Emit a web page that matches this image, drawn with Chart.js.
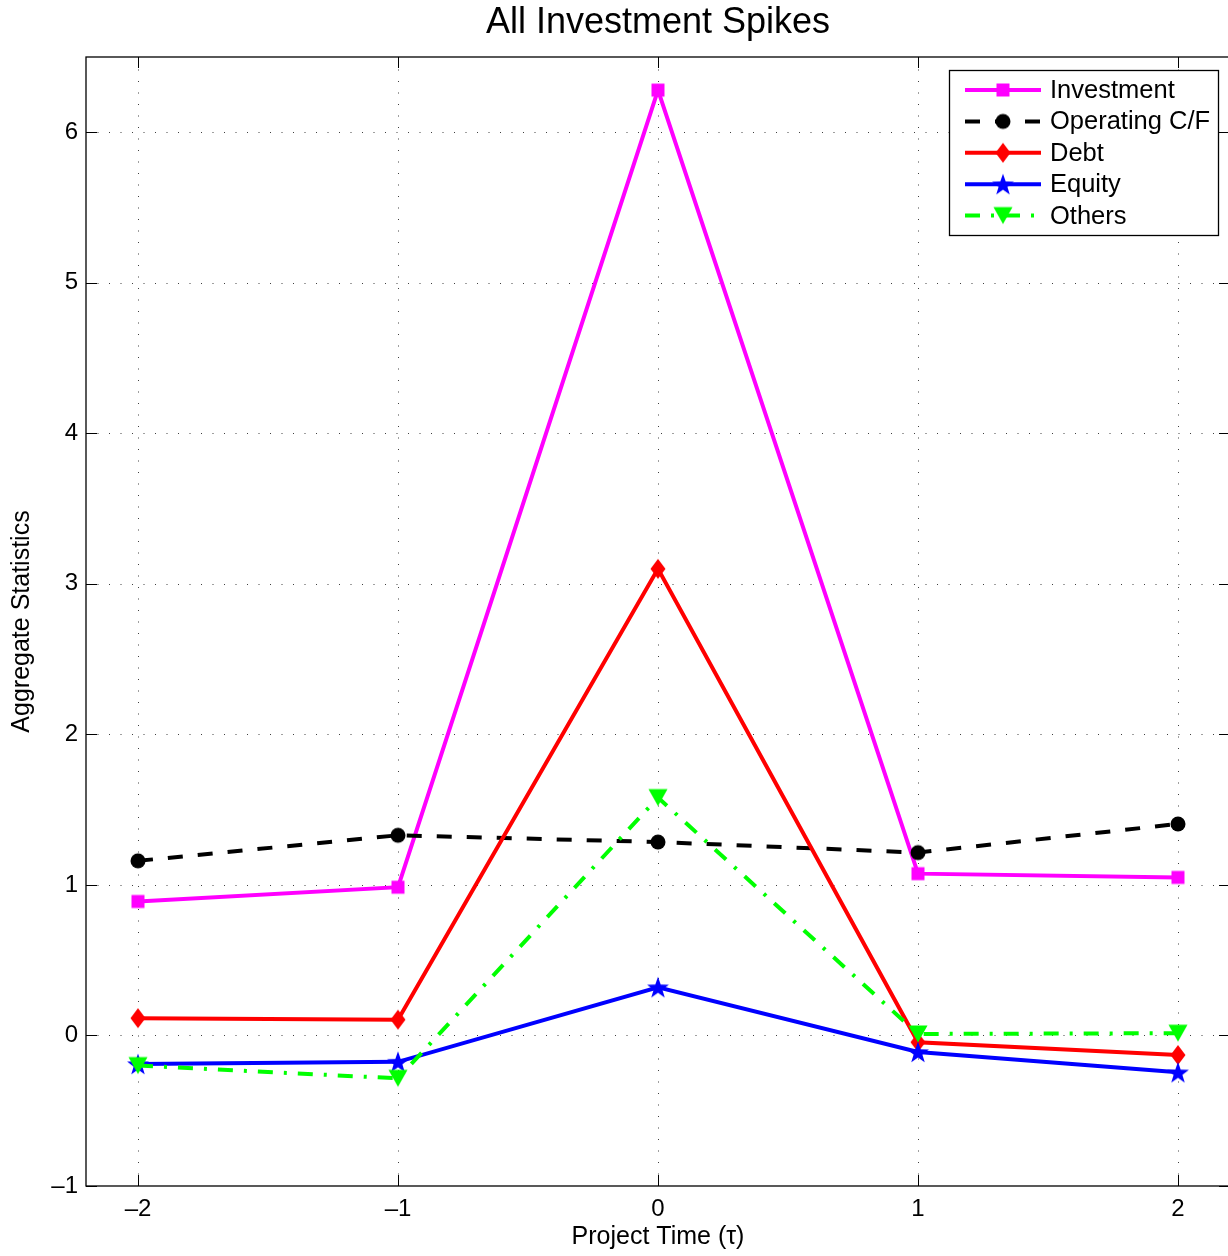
<html>
  <head>
    <title>All Investment Spikes</title>
    <script src="https://cdn.jsdelivr.net/npm/chart.js@4.4.1/dist/chart.umd.min.js"></script>
    <style>
      body { margin: 0; background: #fff; }
      #wrap { width: 1228px; height: 1256px; overflow: hidden; }
    </style>
  </head>
  <body>
    <div id="wrap">
      <canvas id="spikes" width="1316" height="1256"></canvas>
    </div>
    <script>
      // values
      const projectTime = [-2, -1, 0, 1, 2];
      const investment = [0.89, 0.985, 6.28, 1.075, 1.05];
      const operatingCF = [1.16, 1.33, 1.285, 1.215, 1.405];
      const debt = [0.115, 0.105, 3.10, -0.045, -0.13];
      const equity = [-0.19, -0.175, 0.32, -0.11, -0.245];
      const others = [-0.2, -0.285, 1.58, 0.01, 0.015];

      const seriesNames = ['Investment', 'Operating C/F', 'Debt', 'Equity', 'Others'];
      const xTicks = [-2, -1, 0, 1, 2];
      const yTicks = [-1, 0, 1, 2, 3, 4, 5, 6];
      const chartTitle = 'All Investment Spikes';

      const FONT = "'Liberation Sans', Arial, Helvetica, sans-serif";

      // matlab-ish filled markers, drawn once into small canvases
      function makeMarker(kind, color) {
        const c = document.createElement('canvas');
        c.width = 26; c.height = 26;
        const g = c.getContext('2d');
        const cx = 13, cy = 13;
        g.fillStyle = color;
        g.beginPath();
        if (kind === 'square') {
          g.rect(cx - 6.5, cy - 6.5, 13, 13);
        } else if (kind === 'circle') {
          g.arc(cx, cy, 7.5, 0, Math.PI * 2);
        } else if (kind === 'diamond') {
          g.moveTo(cx, cy - 10); g.lineTo(cx + 7.5, cy); g.lineTo(cx, cy + 10); g.lineTo(cx - 7.5, cy);
        } else if (kind === 'star') {
          for (let i = 0; i < 10; i++) {
            const r = i % 2 === 0 ? 11.5 : 4.6;
            const a = -Math.PI / 2 + i * Math.PI / 5;
            const px = cx + r * Math.cos(a), py = cy + 1 + r * Math.sin(a);
            if (i === 0) g.moveTo(px, py); else g.lineTo(px, py);
          }
        } else if (kind === 'tridown') {
          g.moveTo(cx - 9.5, cy - 8.5); g.lineTo(cx + 9.5, cy - 8.5); g.lineTo(cx, cy + 8.5);
        }
        g.closePath();
        g.fill();
        return c;
      }

      const colors = ['#ff00ff', '#000000', '#ff0000', '#0000ff', '#00ff00'];
      const dashes = [[], [15, 15], [], [], [15, 11, 3, 11]];
      const markers = [
        makeMarker('square', colors[0]),
        makeMarker('circle', colors[1]),
        makeMarker('diamond', colors[2]),
        makeMarker('star', colors[3]),
        makeMarker('tridown', colors[4])
      ];
      const seriesValues = [investment, operatingCF, debt, equity, others];

      const datasets = seriesValues.map(function (vals, i) {
        return {
          label: seriesNames[i],
          data: projectTime.map(function (t, k) { return { x: t, y: vals[k] }; }),
          borderColor: colors[i],
          backgroundColor: colors[i],
          borderWidth: 4,
          borderDash: dashes[i],
          pointStyle: markers[i],
          pointRadius: 8,
          tension: 0,
          fill: false,
          order: 5 - i
        };
      });

      function tickText(v) {
        return String(v).replace('-', '\u2013');
      }

      // dotted grid, boxed axes with inward ticks, title and legend
      const matlabAxes = {
        id: 'matlabAxes',
        beforeDatasetsDraw(chart) {
          const ctx = chart.ctx, a = chart.chartArea;
          const sx = chart.scales.x, sy = chart.scales.y;
          ctx.save();
          ctx.strokeStyle = 'rgba(0,0,0,0.75)';
          ctx.lineWidth = 1;
          ctx.setLineDash([1, 10.5]);
          xTicks.forEach(function (t) {
            const px = Math.round(sx.getPixelForValue(t)) + 0.5;
            ctx.beginPath(); ctx.moveTo(px, a.bottom); ctx.lineTo(px, a.top); ctx.stroke();
          });
          yTicks.forEach(function (t) {
            if (t === -1) return;
            const py = Math.round(sy.getPixelForValue(t)) + 0.5;
            ctx.beginPath(); ctx.moveTo(a.left, py); ctx.lineTo(a.right, py); ctx.stroke();
          });
          ctx.restore();
        },
        afterDatasetsDraw(chart) {
          const ctx = chart.ctx, a = chart.chartArea;
          const sx = chart.scales.x, sy = chart.scales.y;
          const tl = 11;
          ctx.save();
          ctx.strokeStyle = '#000';
          ctx.lineWidth = 1.3;
          ctx.setLineDash([]);
          ctx.strokeRect(a.left, a.top, a.right - a.left, a.bottom - a.top);
          ctx.beginPath();
          xTicks.forEach(function (t) {
            const px = Math.round(sx.getPixelForValue(t)) + 0.5;
            ctx.moveTo(px, a.bottom); ctx.lineTo(px, a.bottom - tl);
            ctx.moveTo(px, a.top); ctx.lineTo(px, a.top + tl);
          });
          yTicks.forEach(function (t) {
            const py = Math.round(sy.getPixelForValue(t)) + 0.5;
            ctx.moveTo(a.left, py); ctx.lineTo(a.left + tl, py);
            ctx.moveTo(a.right, py); ctx.lineTo(a.right - tl, py);
          });
          ctx.lineWidth = 1;
          ctx.stroke();
          ctx.restore();
        },
        afterDraw(chart) {
          const ctx = chart.ctx, a = chart.chartArea;
          ctx.save();
          // title, centred over the axes
          ctx.fillStyle = '#000';
          ctx.font = '36px ' + FONT;
          ctx.textAlign = 'center';
          ctx.textBaseline = 'alphabetic';
          ctx.fillText(chartTitle, (a.left + a.right) / 2, 33);

          const box = { x: 949, y: 70, w: 269, h: 165 };
          ctx.fillStyle = '#fff';
          ctx.fillRect(box.x, box.y, box.w, box.h);
          ctx.strokeStyle = '#000';
          ctx.lineWidth = 1.3;
          ctx.strokeRect(box.x + 0.5, box.y + 0.5, box.w, box.h);
          seriesNames.forEach(function (name, i) {
            const y = 90 + i * 31.4;
            ctx.strokeStyle = colors[i];
            ctx.lineWidth = 4;
            ctx.setLineDash(dashes[i]);
            ctx.beginPath(); ctx.moveTo(965, y); ctx.lineTo(1041, y); ctx.stroke();
            ctx.setLineDash([]);
            const m = markers[i];
            ctx.drawImage(m, 1003 - m.width / 2, y - m.height / 2);
            ctx.fillStyle = '#000';
            ctx.font = '25.5px ' + FONT;
            ctx.textBaseline = 'middle';
            ctx.textAlign = 'left';
            ctx.fillText(name, 1050, y + 1);
          });
          ctx.restore();
        }
      };

      new Chart(document.getElementById('spikes'), {
        type: 'line',
        data: { datasets: datasets },
        plugins: [matlabAxes],
        options: {
          responsive: false,
          animation: false,
          devicePixelRatio: 1,
          layout: { padding: { top: 57, right: 86 } },
          plugins: {
            legend: { display: false },
            tooltip: { enabled: false },
            title: { display: false }
          },
          scales: {
            x: {
              type: 'linear',
              min: -2.2,
              max: 2.2,
              grid: { display: false, drawTicks: false },
              border: { display: false },
              ticks: {
                stepSize: 1,
                includeBounds: false,
                padding: 9,
                color: '#000',
                font: { family: FONT, size: 24 },
                callback: tickText
              },
              title: {
                display: true,
                text: 'Project Time (\u03c4)',
                color: '#000',
                font: { family: FONT, size: 25 },
                padding: { top: 0, bottom: 4 }
              },
              afterFit: function (scale) { scale.height = 70; }
            },
            y: {
              min: -1,
              max: 6.5,
              grid: { display: false, drawTicks: false },
              border: { display: false },
              ticks: {
                stepSize: 1,
                includeBounds: false,
                padding: 8,
                color: '#000',
                font: { family: FONT, size: 24 },
                callback: tickText
              },
              title: {
                display: true,
                text: 'Aggregate Statistics',
                color: '#000',
                font: { family: FONT, size: 25 },
                padding: { top: 7, bottom: 0 }
              },
              afterFit: function (scale) { scale.width = 86; }
            }
          }
        }
      });
    </script>
  </body>
</html>
